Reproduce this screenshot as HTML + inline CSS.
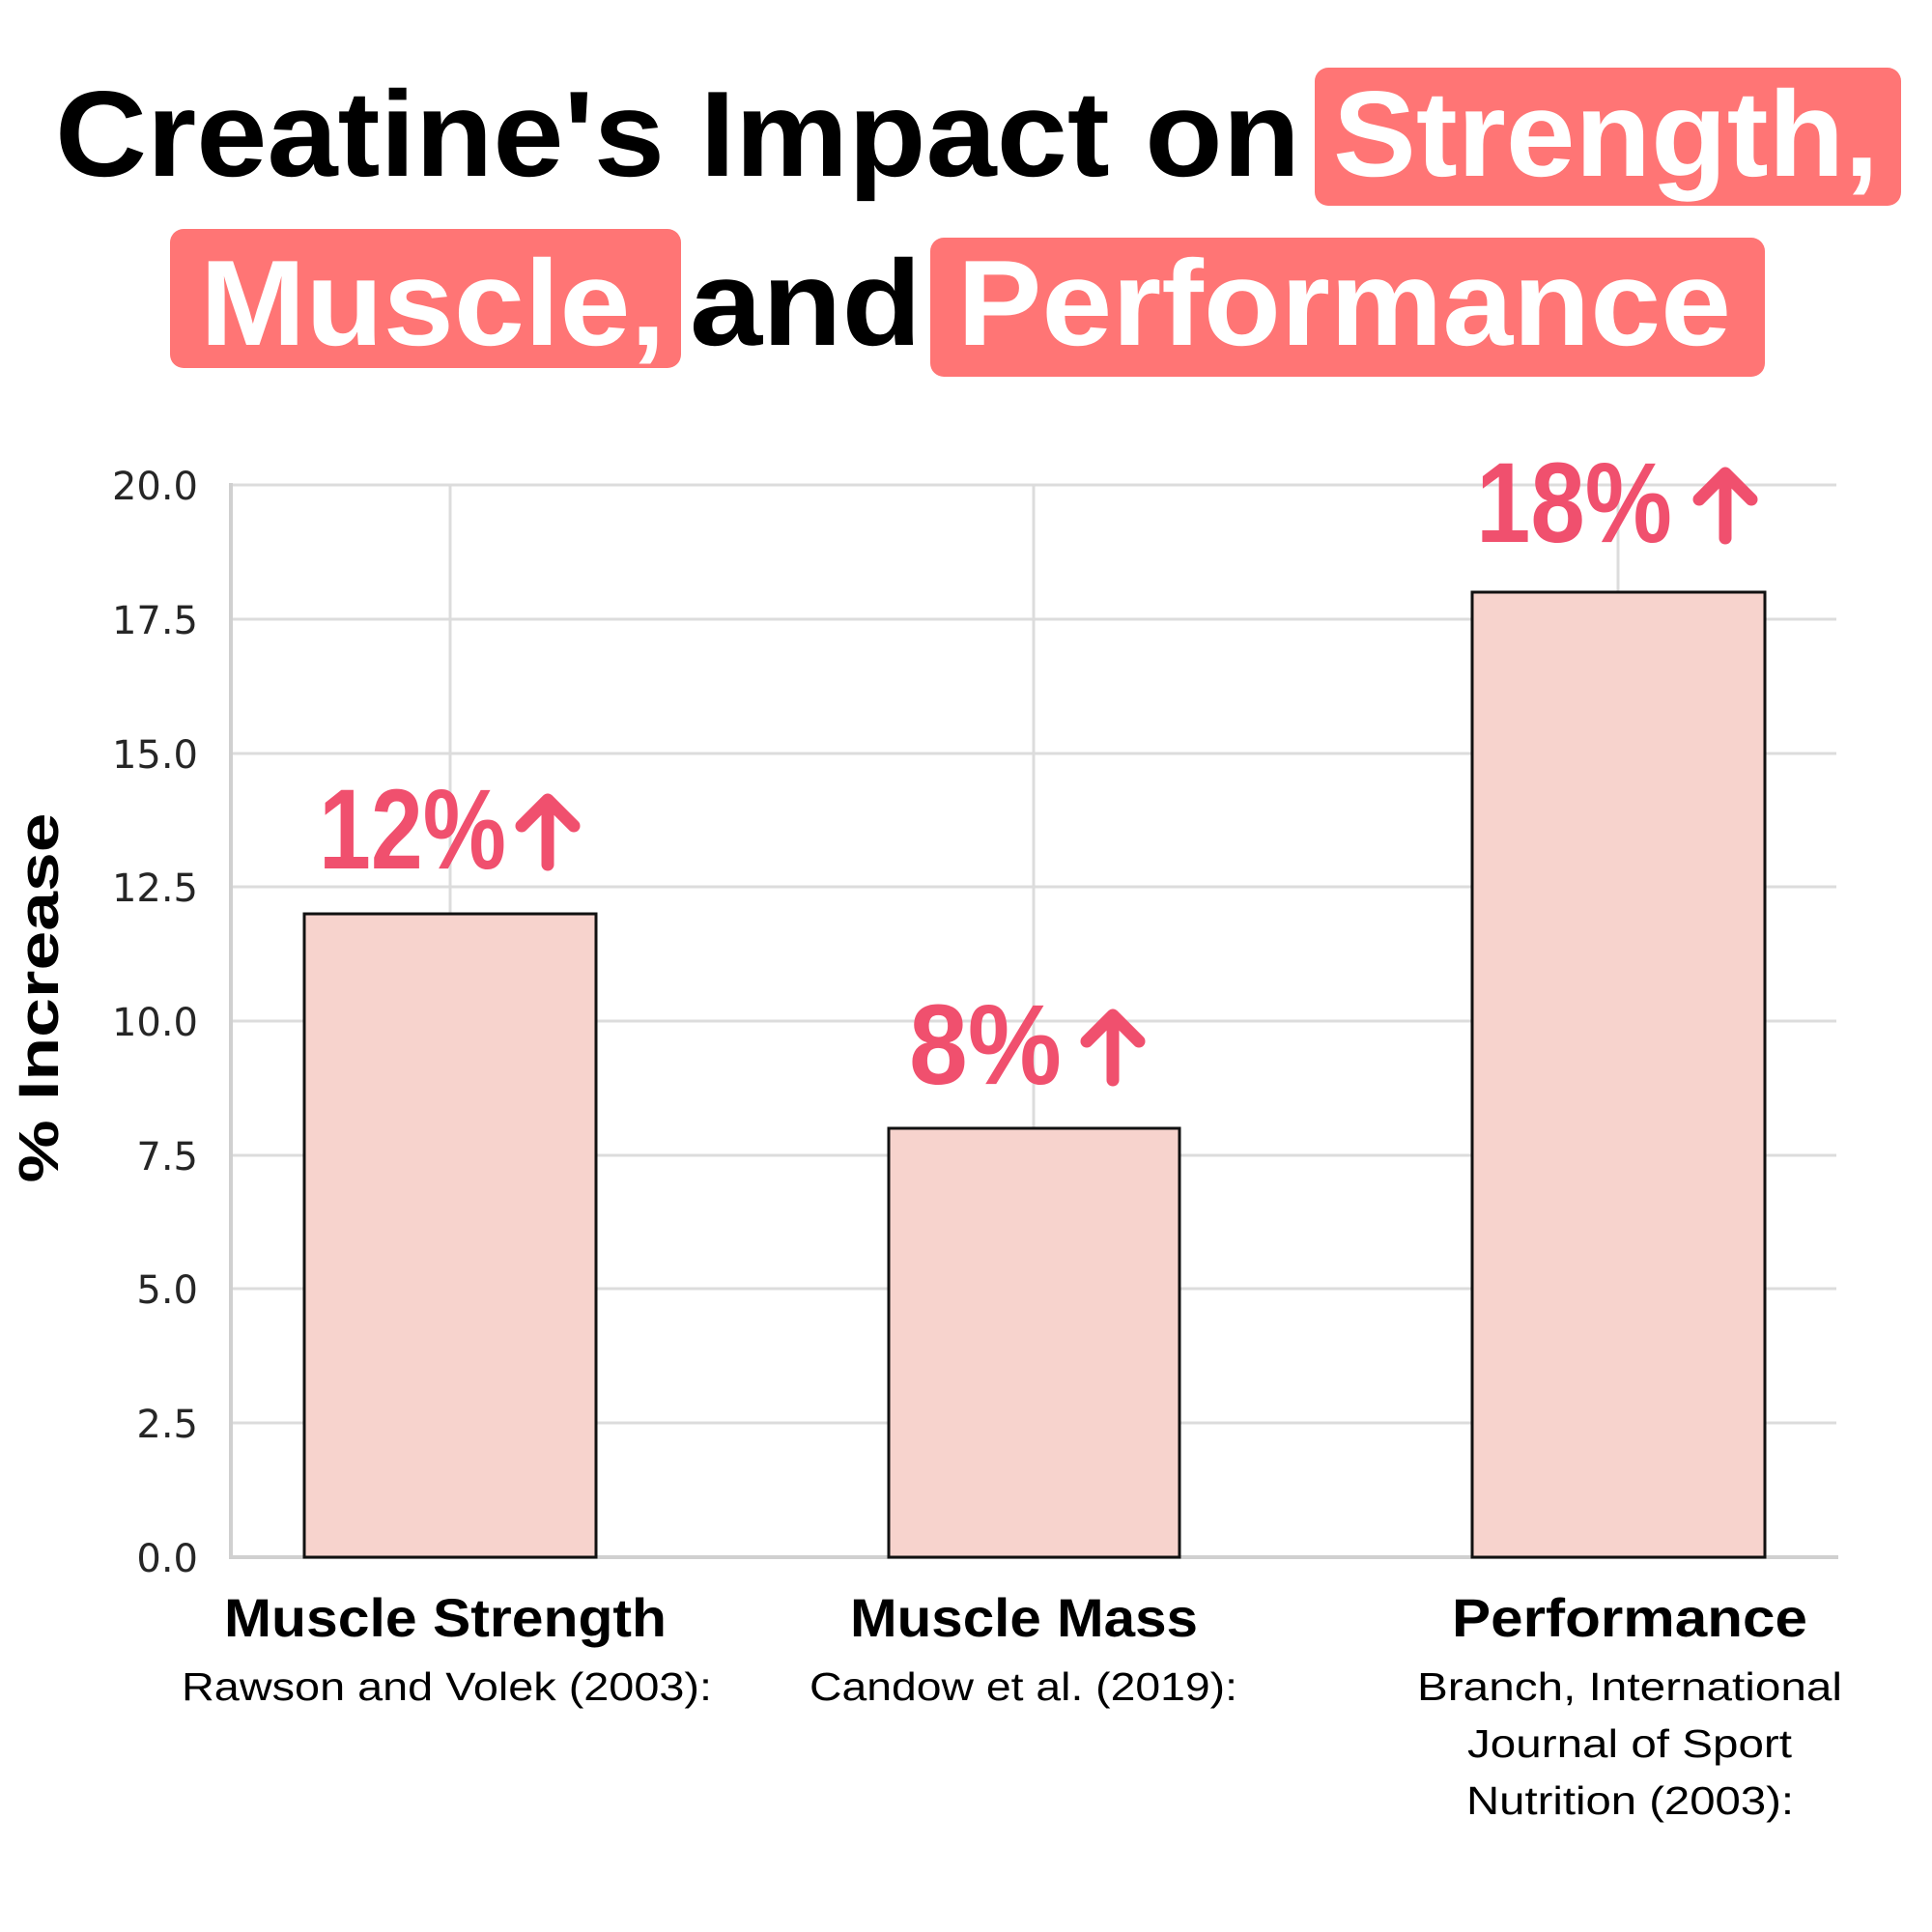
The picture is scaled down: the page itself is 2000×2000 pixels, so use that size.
<!DOCTYPE html>
<html><head><meta charset="utf-8"><style>html,body{margin:0;padding:0;background:#fff}svg{display:block}</style></head>
<body>
<svg width="2000" height="2000" viewBox="0 0 2000 2000" xmlns="http://www.w3.org/2000/svg">
<rect width="2000" height="2000" fill="#fff"/>
<rect x="1361" y="70" width="607" height="143" rx="14" fill="#ff7575"/>
<rect x="176" y="237" width="529" height="144" rx="14" fill="#ff7575"/>
<rect x="963" y="246" width="864" height="144" rx="14" fill="#ff7575"/>
<g font-family="Liberation Sans, sans-serif" font-weight="bold" font-size="126">
<text x="57" y="182" textLength="1289" lengthAdjust="spacingAndGlyphs" fill="#000">Creatine's Impact on</text>
<text x="1380" y="182" textLength="565" lengthAdjust="spacingAndGlyphs" fill="#fff">Strength,</text>
<text x="207" y="357" textLength="482" lengthAdjust="spacingAndGlyphs" fill="#fff">Muscle,</text>
<text x="714" y="357" textLength="240" lengthAdjust="spacingAndGlyphs" fill="#000">and</text>
<text x="991" y="357" textLength="801" lengthAdjust="spacingAndGlyphs" fill="#fff">Performance</text>
</g>
<g stroke="#dcdcdc" stroke-width="3">
<line x1="239" y1="502" x2="1901" y2="502"/>
<line x1="239" y1="641" x2="1901" y2="641"/>
<line x1="239" y1="780" x2="1901" y2="780"/>
<line x1="239" y1="918" x2="1901" y2="918"/>
<line x1="239" y1="1057" x2="1901" y2="1057"/>
<line x1="239" y1="1196" x2="1901" y2="1196"/>
<line x1="239" y1="1334" x2="1901" y2="1334"/>
<line x1="239" y1="1473" x2="1901" y2="1473"/>
<line x1="466" y1="502" x2="466" y2="1612"/>
<line x1="1070" y1="502" x2="1070" y2="1612"/>
<line x1="1675" y1="502" x2="1675" y2="1612"/>
</g>
<g stroke="#d0d0d0" stroke-width="4">
<line x1="239" y1="500" x2="239" y2="1613"/>
<line x1="237" y1="1612" x2="1903" y2="1612"/>
</g>
<g font-family="DejaVu Sans, sans-serif" font-size="40" fill="#262626" text-anchor="end">
<text x="205" y="517">20.0</text>
<text x="205" y="656">17.5</text>
<text x="205" y="795">15.0</text>
<text x="205" y="933">12.5</text>
<text x="205" y="1072">10.0</text>
<text x="205" y="1211">7.5</text>
<text x="205" y="1349">5.0</text>
<text x="205" y="1488">2.5</text>
<text x="205" y="1627">0.0</text>
</g>
<g fill="#f7d3cd" stroke="#111" stroke-width="3">
<rect x="315" y="946" width="302" height="666"/>
<rect x="920" y="1168" width="301" height="444"/>
<rect x="1524" y="613" width="303" height="999"/>
</g>
<g font-family="Liberation Sans, sans-serif" font-weight="bold" font-size="118" fill="#f0506e">
<text x="330" y="899" textLength="194" lengthAdjust="spacingAndGlyphs">12%</text>
<text x="941" y="1122" textLength="158" lengthAdjust="spacingAndGlyphs">8%</text>
<text x="1528" y="561" textLength="203" lengthAdjust="spacingAndGlyphs">18%</text>
</g>
<g stroke="#f0506e" stroke-width="13" stroke-linecap="round" stroke-linejoin="round" fill="none">
<path d="M567 895 V828 M540 855 L567 828 L594 855"/>
<path d="M1152 1118 V1051 M1125 1078 L1152 1051 L1179 1078"/>
<path d="M1786 557 V490 M1759 517 L1786 490 L1813 517"/>
</g>
<text transform="translate(60,1033) rotate(-90)" text-anchor="middle" font-family="Liberation Sans, sans-serif" font-weight="bold" font-size="58" textLength="383" lengthAdjust="spacingAndGlyphs" fill="#000">% Increase</text>
<g font-family="Liberation Sans, sans-serif" font-weight="bold" font-size="56" fill="#000">
<text x="232" y="1694" textLength="458" lengthAdjust="spacingAndGlyphs">Muscle Strength</text>
<text x="880" y="1694" textLength="360" lengthAdjust="spacingAndGlyphs">Muscle Mass</text>
<text x="1503" y="1694" textLength="368" lengthAdjust="spacingAndGlyphs">Performance</text>
</g>
<g font-family="Liberation Sans, sans-serif" font-size="41" fill="#000">
<text x="188" y="1760" textLength="549" lengthAdjust="spacingAndGlyphs">Rawson and Volek (2003):</text>
<text x="838" y="1760" textLength="443" lengthAdjust="spacingAndGlyphs">Candow et al. (2019):</text>
<text x="1467" y="1760" textLength="440" lengthAdjust="spacingAndGlyphs">Branch, International</text>
<text x="1519" y="1819" textLength="336" lengthAdjust="spacingAndGlyphs">Journal of Sport</text>
<text x="1518" y="1878" textLength="339" lengthAdjust="spacingAndGlyphs">Nutrition (2003):</text>
</g>
</svg>
</body></html>
